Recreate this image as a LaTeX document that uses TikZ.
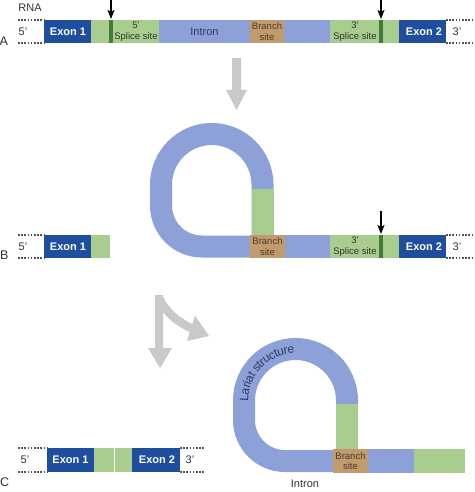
\documentclass[tikz,border=0pt]{standalone}
\usepackage{fontspec}
\setmainfont{Liberation Sans}
\usetikzlibrary{arrows.meta,decorations.text}
\definecolor{exonblue}{HTML}{1F4E9E}
\definecolor{intronblue}{HTML}{8DA0D8}
\definecolor{splgreen}{HTML}{A8CD8E}
\definecolor{dkgreen}{HTML}{3F7B3B}
\definecolor{brsite}{HTML}{C29B6C}
\definecolor{arrgray}{HTML}{C9C9C9}
\definecolor{txt}{HTML}{333333}
\definecolor{navytxt}{HTML}{2E3A5E}
\definecolor{browntxt}{HTML}{4A3D30}
\definecolor{dotgray}{HTML}{555555}
\begin{document}
\begin{tikzpicture}[x=1pt,y=-1pt,
  lbl/.style={inner sep=0, text=txt, font=\fontsize{11}{12}\selectfont},
  letter/.style={inner sep=0, anchor=west, text=txt, font=\fontsize{12.5}{13}\selectfont},
  exlbl/.style={inner sep=0, text=white, font=\bfseries\fontsize{11}{12}\selectfont},
  sitelbl/.style={inner sep=0, align=center, text=txt, font=\fontsize{9.5}{10.5}\selectfont},
  brlbl/.style={inner sep=0, align=center, text=browntxt, font=\fontsize{9.5}{10.5}\selectfont},
  dots/.style={draw=dotgray, line width=1.1pt, dash pattern=on 1.6pt off 1.6pt},
  cutarrow/.style={-{Stealth[length=9pt,width=7pt,inset=2pt]}, line width=1.3pt, black},
  tube/.style={draw=intronblue, line width=22pt},
  blockarrow/.style={fill=arrgray, draw=none}
]
\useasboundingbox (0,0) rectangle (474,492);

% ================= Row A =================
\node[lbl] (rna) at (30,7.5) {RNA};
\node[letter] (la) at (-0.5,41) {A};
\draw[dots] (18,20) -- (44,20);
\draw[dots] (18,43) -- (44,43);
\draw[dots] (446,20) -- (474,20);
\draw[dots] (446,43) -- (474,43);
\node[lbl] (a5) at (23,31.5) {5'};
\node[lbl] (a3) at (457,31.5) {3'};
\fill[exonblue] (44,20) rectangle (91,43);
\fill[splgreen] (91,20) rectangle (159,43);
\fill[intronblue] (159,20) rectangle (250,43);
\fill[brsite] (250,20) rectangle (284,43);
\fill[intronblue] (284,20) rectangle (330,43);
\fill[splgreen] (330,20) rectangle (399,43);
\fill[exonblue] (399,20) rectangle (446,43);
\fill[dkgreen] (109,20) rectangle (112.5,43);
\fill[dkgreen] (379,20) rectangle (382.5,43);
\node[exlbl] (aex1) at (68,31.5) {Exon 1};
\node[exlbl] (aex2) at (424,31.5) {Exon 2};
\node[sitelbl] (a5ss) at (136,31.5) {5'\\Splice site};
\node[lbl, text=navytxt] (aintron) at (204.5,31.5) {Intron};
\node[brlbl] (abr) at (267,31.5) {Branch\\site};
\node[sitelbl] (a3ss) at (355,31.5) {3'\\Splice site};
\coordinate (cut1top) at (111,-1);
\coordinate (cut1) at (111,19);
\coordinate (cut2top) at (381,-1);
\coordinate (cut2) at (381,19);
\draw[cutarrow] (cut1top) -- (cut1);
\draw[cutarrow] (cut2top) -- (cut2);

% gray arrow A -> B
\path[blockarrow] (232,58) -- (241,58) -- (241,90) -- (247,90) -- (236.5,110)
  -- (226,90) -- (232,90) -- cycle;

% ================= Row B =================
\node[letter] (lb) at (0,255) {B};
\draw[dots] (18,235) -- (44,235);
\draw[dots] (18,258) -- (44,258);
\draw[dots] (446,235) -- (474,235);
\draw[dots] (446,258) -- (474,258);
\node[lbl] (b5) at (23,246.5) {5'};
\node[lbl] (b3) at (457,246.5) {3'};
\fill[exonblue] (44,235) rectangle (91,258);
\fill[splgreen] (91,235) rectangle (110,258);
\node[exlbl] (bex1) at (68,246.5) {Exon 1};
% loop
\draw[tube] (262.5,240) -- (262.5,184.75) arc[start angle=0, end angle=180, radius=50.75pt]
  -- (161,205.5) arc[start angle=180, end angle=270, radius=41pt] -- (256,246.5);
\fill[splgreen] (251.5,189) rectangle (273.5,235);
\fill[brsite] (250,235) rectangle (285,258);
\fill[intronblue] (285,235) rectangle (330,258);
\fill[splgreen] (330,235) rectangle (399,258);
\fill[exonblue] (399,235) rectangle (446,258);
\fill[dkgreen] (379,235) rectangle (382.5,258);
\node[brlbl] (bbr) at (267.5,246.5) {Branch\\site};
\node[sitelbl] (b3ss) at (355,246.5) {3'\\Splice site};
\node[exlbl] (bex2) at (424,246.5) {Exon 2};
\coordinate (cut3top) at (381,211);
\coordinate (cut3) at (381,234);
\draw[cutarrow] (cut3top) -- (cut3);

% gray arrows B -> C
\path[blockarrow] (155,295) -- (163,295) -- (163,348) -- (172,348) -- (160,368)
  -- (148,348) -- (155,348) -- cycle;
\draw[arrgray, line width=8.5pt] (159,298) .. controls (166,313) and (178,322) .. (192,328.5);
\path[blockarrow] (195,315.5) -- (209,336) -- (187,341) -- cycle;

% ================= Row C =================
\node[letter] (lc) at (0,482) {C};
\draw[dots] (18,448) -- (47,448);
\draw[dots] (18,472) -- (47,472);
\draw[dots] (180,448) -- (205,448);
\draw[dots] (180,472) -- (205,472);
\node[lbl] (c5) at (25,460) {5'};
\node[lbl] (c3) at (190,460) {3'};
\fill[exonblue] (47,448) rectangle (94,472);
\fill[splgreen] (94,448) rectangle (114,472);
\fill[splgreen] (115,448) rectangle (132,472);
\fill[exonblue] (132,448) rectangle (180,472);
\node[exlbl] (cex1) at (70.5,460) {Exon 1};
\node[exlbl] (cex2) at (157,460) {Exon 2};

% lariat
\draw[tube] (347,452) -- (347,400.5) arc[start angle=0, end angle=180, radius=51.5pt]
  -- (244,420) arc[start angle=180, end angle=270, radius=41pt] -- (340,461);
\fill[splgreen] (336,404) rectangle (358,449);
\fill[brsite] (333,449) rectangle (368,473);
\fill[intronblue] (368,449) rectangle (414,473);
\fill[splgreen] (414,449) rectangle (465,473);
\node[brlbl] (cbr) at (350.5,461) {Branch\\site};
\node[lbl] (cintron) at (305,484) {Intron};
\path[decorate, decoration={text along path, text align=center, raise=-4.2pt,
   text={|\fontsize{12}{13}\selectfont\color{navytxt}|Lariat structure}}]
  ([shift={(188:51.5pt)}]295.5,400.5) arc[start angle=188, end angle=84, radius=51.5pt];
\end{tikzpicture}
\end{document}
